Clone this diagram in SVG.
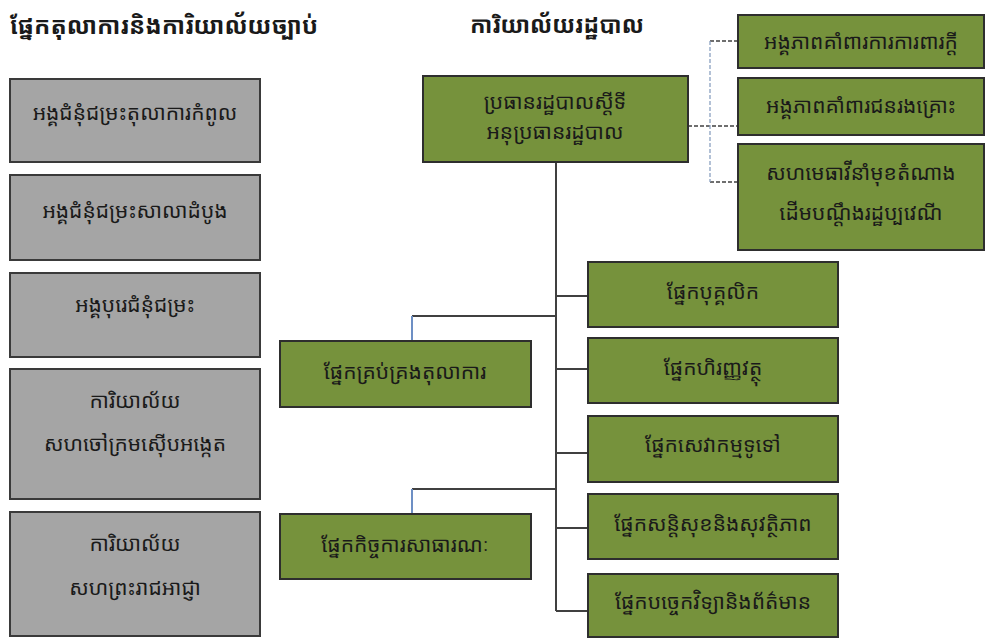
<svg xmlns="http://www.w3.org/2000/svg" width="985" height="639" viewBox="0 0 985 639">
<style>
text{font-family:"Noto Sans Khmer","Khmer OS","Khmer OS System","Noto Sans","DejaVu Sans",sans-serif;fill:#1a1a1a;text-anchor:middle;dominant-baseline:central}
.title{font-size:24px;font-weight:bold;text-anchor:start}
.ttl2{font-size:23px;font-weight:bold}
.lbl{font-size:21px}
.gray{fill:#a5a5a5;stroke:#3a3a3a;stroke-width:2}
.green{fill:#76923c;stroke:#2e2e2e;stroke-width:2}
.ln{fill:none;stroke:#404040;stroke-width:2}
.blue{fill:none;stroke:#6d8fc4;stroke-width:2}
.dash{fill:none;stroke:#404040;stroke-width:1.3;stroke-dasharray:4 2}
.dashb{fill:none;stroke:#8aa0c0;stroke-width:1.3;stroke-dasharray:4 2}
</style>
<rect width="985" height="639" fill="#ffffff"/>
<text class="title" x="10" y="24">ផ្នែកតុលាការនិងការិយាល័យច្បាប់</text>
<text class="ttl2" x="557" y="24">ការិយាល័យរដ្ឋបាល</text>

<g id="connectors">
<path class="ln" d="M556 162V611"/>
<path class="ln" d="M556 296H588M556 369H588M556 453H588M556 528H588M556 611H588"/>
<path class="ln" d="M556 316H412"/>
<path class="blue" d="M412 316V341"/>
<path class="ln" d="M556 489H412"/>
<path class="blue" d="M412 489V514"/>
<path class="dash" d="M688 126H738M710 41H738M710 182H738"/>
<path class="dashb" d="M710 41V182"/>
</g>

<g id="g1"><rect class="gray" x="10" y="79" width="250" height="83"/><text class="lbl" x="135" y="112">អង្គជំនុំជម្រះតុលាការកំពូល</text></g>
<g id="g2"><rect class="gray" x="10" y="175" width="250" height="85"/><text class="lbl" x="135" y="210">អង្គជំនុំជម្រះសាលាដំបូង</text></g>
<g id="g3"><rect class="gray" x="10" y="273" width="250" height="84"/><text class="lbl" x="135" y="304">អង្គបុរេជំនុំជម្រះ</text></g>
<g id="g4"><rect class="gray" x="10" y="369" width="250" height="130"/><text class="lbl" x="135" y="400">ការិយាល័យ</text><text class="lbl" x="135" y="443">សហចៅក្រមស៊ើបអង្កេត</text></g>
<g id="g5"><rect class="gray" x="10" y="512" width="250" height="124"/><text class="lbl" x="135" y="543">ការិយាល័យ</text><text class="lbl" x="135" y="587">សហព្រះរាជអាជ្ញា</text></g>

<g id="head"><rect class="green" x="423" y="76" width="265" height="86"/><text class="lbl" x="555" y="101">ប្រធានរដ្ឋបាលស្តីទី</text><text class="lbl" x="555" y="131">អនុប្រធានរដ្ឋបាល</text></g>

<g id="r1"><rect class="green" x="738" y="15" width="246" height="53"/><text class="lbl" x="861" y="41">អង្គភាពគាំពារការការពារក្តី</text></g>
<g id="r2"><rect class="green" x="738" y="78" width="246" height="57"/><text class="lbl" x="861" y="105">អង្គភាពគាំពារជនរងគ្រោះ</text></g>
<g id="r3"><rect class="green" x="738" y="144" width="246" height="106"/><text class="lbl" x="861" y="172">សហមេធាវីនាំមុខតំណាង</text><text class="lbl" x="861" y="212">ដើមបណ្តឹងរដ្ឋប្បវេណី</text></g>

<g id="l1"><rect class="green" x="280" y="341" width="251" height="66"/><text class="lbl" x="405" y="371">ផ្នែកគ្រប់គ្រងតុលាការ</text></g>
<g id="l2"><rect class="green" x="280" y="514" width="251" height="65"/><text class="lbl" x="405" y="544">ផ្នែកកិច្ចការសាធារណៈ</text></g>

<g id="d1"><rect class="green" x="588" y="262" width="250" height="65"/><text class="lbl" x="713" y="291">ផ្នែកបុគ្គលិក</text></g>
<g id="d2"><rect class="green" x="588" y="338" width="250" height="65"/><text class="lbl" x="713" y="367">ផ្នែកហិរញ្ញវត្ថុ</text></g>
<g id="d3"><rect class="green" x="588" y="416" width="250" height="66"/><text class="lbl" x="713" y="444">ផ្នែកសេវាកម្មទូទៅ</text></g>
<g id="d4"><rect class="green" x="588" y="494" width="250" height="65"/><text class="lbl" x="713" y="523">ផ្នែកសន្តិសុខនិងសុវត្ថិភាព</text></g>
<g id="d5"><rect class="green" x="588" y="574" width="250" height="63"/><text class="lbl" x="713" y="601">ផ្នែកបច្ចេកវិទ្យានិងព័ត៌មាន</text></g>
</svg>
